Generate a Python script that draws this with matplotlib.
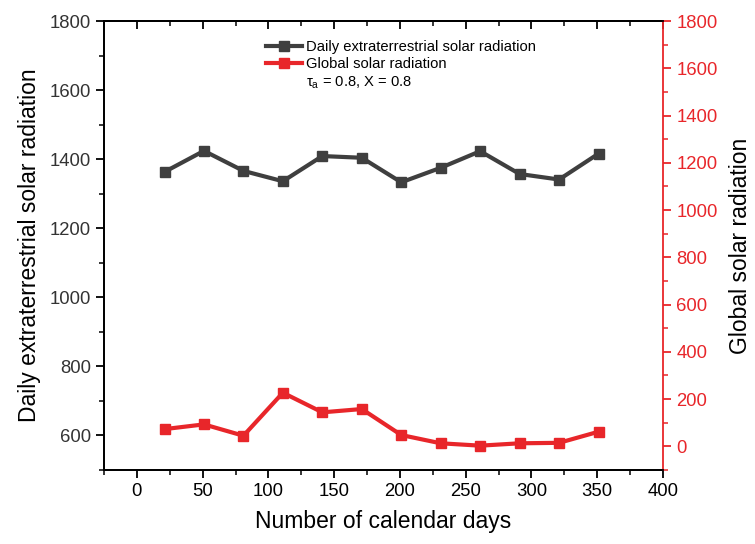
import matplotlib
matplotlib.use("Agg")
import matplotlib.pyplot as plt
from matplotlib.ticker import MultipleLocator
from matplotlib.lines import Line2D
from matplotlib.patches import Rectangle

plt.rcParams['font.family'] = ['Liberation Sans', 'DejaVu Sans']

days = [21, 51, 81, 111, 141, 171, 201, 231, 261, 291, 321, 351]
extraterrestrial = [1363, 1424, 1366, 1336, 1409, 1404, 1333, 1375, 1423, 1357, 1341, 1416]
global_rad = [73, 93, 45, 227, 144, 158, 48, 13, 3, 13, 15, 62]

x_ticks = [0, 50, 100, 150, 200, 250, 300, 350, 400]
left_ticks = [600, 800, 1000, 1200, 1400, 1600, 1800]
right_ticks = [0, 200, 400, 600, 800, 1000, 1200, 1400, 1600, 1800]

black = '#3f3f3f'
red = '#e8262a'
tick_fs = 13.3
label_fs = 16.5

fig = plt.figure(figsize=(7.55, 5.44), dpi=100)
ax = fig.add_axes([104/755, 1-470/544, (663-104)/755, (470-21)/544])
ax2 = ax.twinx()

ax.plot(days, extraterrestrial, color=black, lw=3, marker='s', ms=7,
        label='Daily extraterrestrial solar radiation', zorder=3)
ax2.plot(days, global_rad, color=red, lw=3, marker='s', ms=7,
         label='Global solar radiation', zorder=3)

ax.set_xlim(-25, 400)
ax.set_ylim(500, 1800)
ax2.set_ylim(-100, 1800)

ax.set_xticks(x_ticks)
ax.xaxis.set_minor_locator(MultipleLocator(25))
ax.set_yticks(left_ticks)
ax.yaxis.set_minor_locator(MultipleLocator(100))
ax2.set_yticks(right_ticks)
ax2.yaxis.set_minor_locator(MultipleLocator(100))

ax.tick_params(axis='x', which='both', direction='out', top=False,
               labelsize=tick_fs, colors='black')
ax.tick_params(axis='x', which='major', length=6, width=1.3)
ax.tick_params(axis='x', which='minor', length=3.5, width=1.1)
ax.tick_params(axis='y', which='both', direction='out', labelsize=tick_fs, labelcolor='#333333')
ax.tick_params(axis='y', which='major', length=6, width=1.3)
ax.tick_params(axis='y', which='minor', length=3.5, width=1.1)

# top axis with inward ticks
secx = ax.secondary_xaxis('top')
secx.set_xticks(x_ticks)
secx.xaxis.set_minor_locator(MultipleLocator(25))
secx.tick_params(axis='x', which='both', direction='in', labeltop=False)
secx.tick_params(axis='x', which='major', length=6, width=1.3)
secx.tick_params(axis='x', which='minor', length=3.5, width=1.1)
secx.spines['top'].set_linewidth(1.3)

ax2.tick_params(axis='y', which='both', direction='out', colors=red, labelsize=tick_fs)
ax2.tick_params(axis='y', which='major', length=6, width=1.3)
ax2.tick_params(axis='y', which='minor', length=3.5, width=1.1)

for s in ['left', 'bottom', 'top']:
    ax.spines[s].set_linewidth(1.3)
    ax2.spines[s].set_linewidth(1.3)
ax2.spines['right'].set_color(red)
ax2.spines['right'].set_linewidth(1.3)
ax.spines['right'].set_visible(False)

ax.set_xlabel('Number of calendar days', fontsize=label_fs, labelpad=7)
ax.set_ylabel('Daily extraterrestrial solar radiation', fontsize=label_fs, labelpad=6)
ax2.set_ylabel('Global solar radiation', fontsize=label_fs, labelpad=8)

h1 = Line2D([], [], color=black, lw=3, marker='s', ms=7)
h2 = Line2D([], [], color=red, lw=3, marker='s', ms=7)
h3 = Rectangle((0, 0), 1, 1, fill=False, edgecolor='none', visible=False)
leg = ax.legend([h1, h2, h3],
                ['Daily extraterrestrial solar radiation', 'Global solar radiation',
                 r'$\mathregular{\tau_a}$ = 0.8, X = 0.8'],
                loc='upper left', bbox_to_anchor=(0.28, 0.97), frameon=False,
                fontsize=10.6, handlelength=2.4, handletextpad=0.3, labelspacing=0.2,
                borderaxespad=0)

fig.savefig('out.png', dpi=100)
